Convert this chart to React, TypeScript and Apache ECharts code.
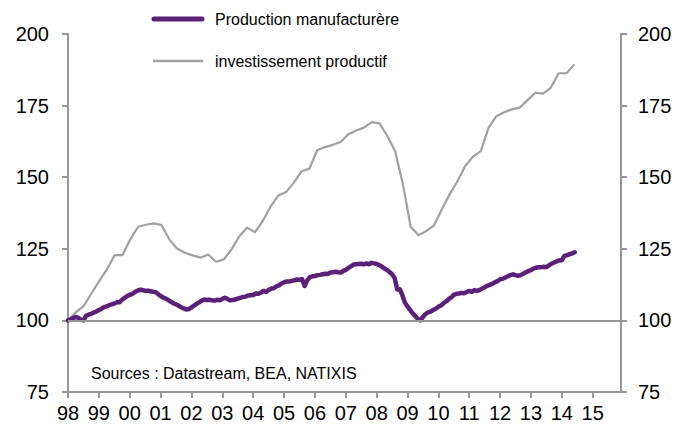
import React, { useEffect, useRef } from "react";
import * as echarts from "echarts";

// Year tick labels (monthly primary axis 1998-01 .. 2015-12)
const yearLabels = ["98", "99", "00", "01", "02", "03", "04", "05", "06", "07", "08", "09", "10", "11", "12", "13", "14", "15"];
const monthCategories = yearLabels.flatMap((y) => Array.from({ length: 12 }, (_, m) => `${y}-${m + 1}`));
const quarterCategories = yearLabels.flatMap((y) => ["T1", "T2", "T3", "T4"].map((q) => `${y}${q}`));

// Production manufacturière (monthly, Jan 1998 = 100)
const production = [
  // 1998
  100.0, 100.4, 100.8, 101.2, 100.9, 100.3, 100.0, 101.6, 102.0, 102.3, 102.7, 103.1,
  // 1999
  103.6, 104.0, 104.6, 104.9, 105.3, 105.6, 105.9, 106.3, 106.3, 107.2, 107.9, 108.5,
  // 2000
  108.9, 109.3, 109.9, 110.4, 110.7, 110.6, 110.3, 110.4, 110.2, 110.0, 109.9, 109.2,
  // 2001
  108.5, 108.0, 107.6, 107.1, 106.5, 106.0, 105.6, 105.1, 104.6, 104.2, 103.8, 104.0,
  // 2002
  104.5, 105.2, 105.8, 106.3, 106.9, 107.3, 107.1, 107.2, 107.0, 106.9, 107.2, 107.0,
  // 2003
  107.5, 107.9, 107.5, 107.0, 107.1, 107.3, 107.6, 107.9, 108.2, 108.3, 108.7, 108.8,
  // 2004
  108.9, 109.4, 109.3, 109.7, 110.3, 109.9, 110.6, 111.1, 111.2, 111.9, 112.2, 112.9,
  // 2005
  113.3, 113.6, 113.6, 113.8, 114.0, 114.3, 114.2, 114.4, 112.0, 114.0, 115.1, 115.4,
  // 2006
  115.5, 115.8, 115.9, 116.1, 116.3, 116.2, 116.7, 116.8, 117.0, 116.8, 116.7, 117.3,
  // 2007
  117.6, 118.3, 118.9, 119.5, 119.6, 119.7, 119.8, 119.6, 119.9, 119.6, 120.1, 119.9,
  // 2008
  119.7, 119.3, 118.8, 118.1, 117.6, 116.9, 116.1, 114.8, 110.8, 110.9, 108.8, 106.2,
  // 2009
  104.8, 103.7, 102.5, 101.5, 100.5, 100.0, 101.2, 102.2, 102.8, 103.1, 103.6, 104.1,
  // 2010
  104.8, 105.2, 106.0, 106.6, 107.4, 108.0, 108.9, 109.3, 109.4, 109.6, 109.5, 109.9,
  // 2011
  110.3, 110.0, 110.6, 110.3, 110.6, 111.1, 111.6, 112.1, 112.4, 112.8, 113.3, 113.7,
  // 2012
  114.4, 114.5, 115.0, 115.4, 115.8, 116.1, 115.8, 115.6, 115.8, 116.3, 116.8, 117.2,
  // 2013
  117.6, 118.1, 118.4, 118.6, 118.6, 118.7, 118.6, 119.2, 119.8, 120.2, 120.6, 121.0,
  // 2014
  121.0, 122.5, 122.8, 123.1, 123.4, 123.8,
];

// Investissement productif (quarterly, 1998T1 = 100)
const investissement = [
  100.0, 102.8, 105.0, 109.4, 113.7, 117.8, 122.8, 122.8,
  128.3, 132.7, 133.4, 133.9, 133.3, 128.3, 125.1, 123.6,
  122.7, 121.9, 123.0, 120.5, 121.3, 124.8, 129.4, 132.4,
  130.8, 134.7, 139.7, 143.6, 144.8, 148.1, 152.1, 153.0,
  159.5, 160.5, 161.3, 162.3, 165.0, 166.3, 167.3, 169.2,
  168.8, 164.4, 159.1, 147.5, 132.7, 129.7, 131.2, 133.2,
  138.8, 144.0, 148.6, 153.9, 157.2, 159.1, 167.3, 171.3,
  172.7, 173.7, 174.3, 176.9, 179.5, 179.2, 181.3, 186.3,
  186.3, 189.4,
];

const yMin = 75;
const yMax = 200;
const yStep = 25;
const refLevel = 100;

const seriesNames = ["Production manufacturère", "investissement productif"];
const sourceText = "Sources : Datastream, BEA, NATIXIS";

const PURPLE = "#5b2179";
const GREY_LINE = "#a0a0a0";
const AXIS = "#969696";
const FONT = "'Liberation Sans', Arial, sans-serif";

export default function App() {
  const ref = useRef<HTMLDivElement>(null);

  useEffect(() => {
    if (!ref.current) return;
    const chart = echarts.init(ref.current, undefined, { renderer: "svg" });
    const axisLineStyle = { color: AXIS, width: 2 };
    const yAxisBase = {
      type: "value",
      min: yMin,
      max: yMax,
      interval: yStep,
      axisLine: { show: true, lineStyle: axisLineStyle },
      axisTick: { show: true, length: 6, lineStyle: axisLineStyle },
      splitLine: { show: false },
    };
    chart.setOption({
      animation: false,
      backgroundColor: "#ffffff",
      textStyle: { fontFamily: FONT },
      grid: { left: 68, right: 56, top: 34, bottom: 33, containLabel: false },
      xAxis: [
        {
          type: "category",
          data: monthCategories,
          boundaryGap: false,
          axisLine: { onZero: false, lineStyle: axisLineStyle },
          axisTick: { interval: (i: number) => i % 12 === 0, length: 6, lineStyle: axisLineStyle },
          axisLabel: {
            interval: (i: number) => i % 12 === 0,
            formatter: (v: string) => v.split("-")[0],
            fontSize: 20,
            color: "#000",
            margin: 11,
            fontFamily: FONT,
          },
          splitLine: { show: false },
        },
        {
          type: "category",
          data: quarterCategories,
          boundaryGap: false,
          show: false,
        },
      ],
      yAxis: [
        {
          ...yAxisBase,
          position: "left",
          axisLabel: { fontSize: 20, color: "#000", margin: 19, fontFamily: FONT },
        },
        {
          ...yAxisBase,
          position: "right",
          axisLabel: { fontSize: 20, color: "#000", margin: 17, fontFamily: FONT },
        },
      ],
      series: [
        {
          name: seriesNames[1],
          type: "line",
          xAxisIndex: 1,
          yAxisIndex: 0,
          data: investissement,
          symbol: "none",
          z: 2,
          lineStyle: { color: GREY_LINE, width: 2.2, join: "round" },
          markLine: {
            silent: true,
            symbol: ["none", "none"],
            label: { show: false },
            lineStyle: { color: AXIS, width: 2, type: "solid" },
            data: [{ yAxis: refLevel }],
          },
        },
        {
          name: seriesNames[0],
          type: "line",
          xAxisIndex: 0,
          yAxisIndex: 0,
          data: production,
          symbol: "none",
          z: 4,
          lineStyle: { color: PURPLE, width: 4.5, join: "round", cap: "round" },
        },
      ],
      graphic: [
        {
          type: "line",
          shape: { x1: 154, y1: 19, x2: 202, y2: 19 },
          style: { stroke: PURPLE, lineWidth: 5, lineCap: "round" },
        },
        {
          type: "text",
          x: 215,
          y: 19,
          style: { text: seriesNames[0], fill: "#000", font: `16px ${FONT}`, verticalAlign: "middle" },
        },
        {
          type: "line",
          shape: { x1: 153, y1: 61, x2: 203, y2: 61 },
          style: { stroke: GREY_LINE, lineWidth: 2.5 },
        },
        {
          type: "text",
          x: 215,
          y: 61,
          style: { text: seriesNames[1], fill: "#000", font: `16px ${FONT}`, verticalAlign: "middle" },
        },
        {
          type: "text",
          x: 91,
          y: 373,
          style: { text: sourceText, fill: "#000", font: `16px ${FONT}`, verticalAlign: "middle" },
        },
      ],
    });
    return () => chart.dispose();
  }, []);

  return <div ref={ref} style={{ width: 677, height: 425, position: "absolute", left: 0, top: 0 }} />;
}
